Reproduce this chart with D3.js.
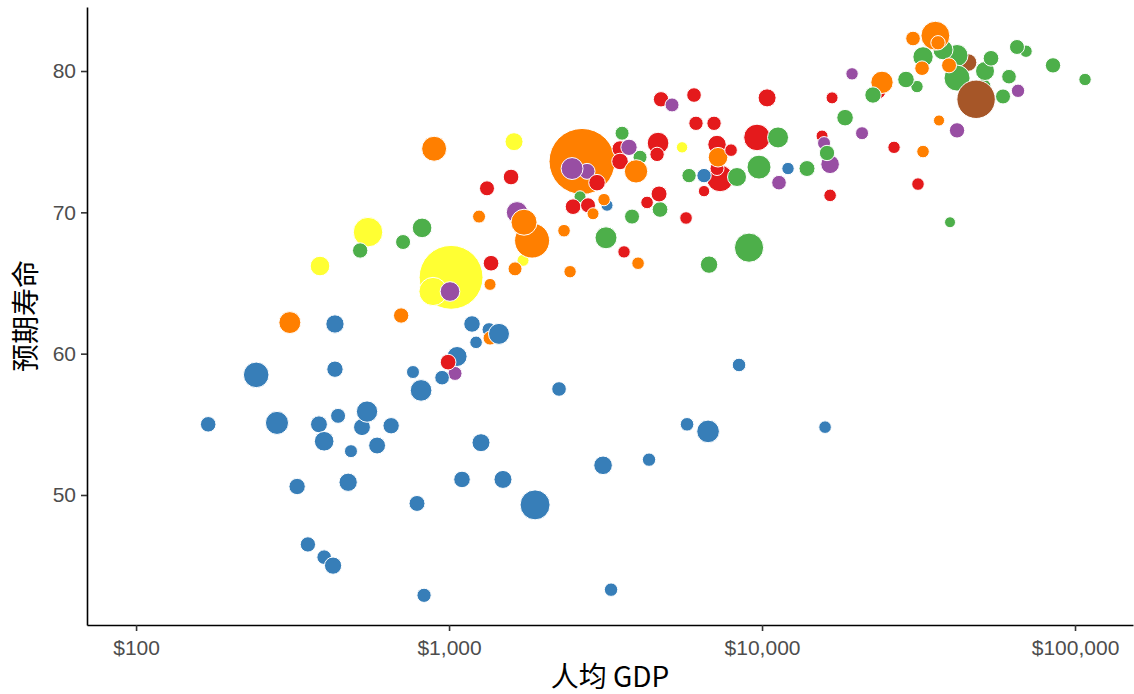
<!DOCTYPE html>
<html>
<head>
<meta charset="utf-8">
<script src="https://cdn.jsdelivr.net/npm/d3@7"></script>
<style>
  html, body { margin: 0; padding: 0; background: #ffffff; }
  svg { display: block; }
</style>
</head>
<body>
<svg id="chart" width="1134" height="694"></svg>
<script>
// GDP per capita (current US$), life expectancy (years) and population (millions), by region.
const regions = [
  "Latin America & Caribbean",
  "Sub-Saharan Africa",
  "Europe & Central Asia",
  "Middle East & North Africa",
  "East Asia & Pacific",
  "South Asia",
  "North America"
];

const latinAmerica = [
  ["Antigua and Barbuda", 15550, 75.4, 1.7],
  ["Argentina", 7181, 74.8, 30],
  ["Aruba", 23640, 78.5, 3.9],
  ["Bahamas, The", 26410, 74.6, 2.4],
  ["Barbados", 16740, 78.1, 1.7],
  ["Belize", 4292, 70.7, 2.8],
  ["Bolivia", 1362, 66.4, 13.5],
  ["Brazil", 7342, 72.4, 116],
  ["Cayman Islands", 31500, 72.0, 2.8],
  ["Chile", 10380, 78.1, 27],
  ["Colombia", 4654, 74.9, 57],
  ["Costa Rica", 6063, 78.3, 9],
  ["Cuba", 4756, 78.0, 12],
  ["Dominica", 7181, 73.1, 6.7],
  ["Dominican Republic", 4620, 74.1, 8],
  ["Ecuador", 3518, 74.5, 15],
  ["El Salvador", 3518, 73.6, 18],
  ["Guatemala", 2490, 70.4, 13.5],
  ["Guyana", 3623, 67.2, 2.4],
  ["Haiti", 993, 59.4, 13.5],
  ["Honduras", 1322, 71.7, 10.5],
  ["Jamaica", 4688, 71.3, 15],
  ["Mexico", 9638, 75.3, 116],
  ["Nicaragua", 1578, 72.5, 13.5],
  ["Panama", 6152, 76.3, 8],
  ["Paraguay", 2780, 70.5, 10.5],
  ["Peru", 2970, 72.1, 18],
  ["St. Lucia", 6527, 71.5, 0.8],
  ["St. Vincent and the Grenadines", 7962, 74.4, 2.8],
  ["Suriname", 5718, 69.6, 2.8],
  ["Trinidad and Tobago", 16500, 71.2, 2.8],
  ["Uruguay", 7025, 76.3, 8]
];

const subSaharanAfrica = [
  ["Angola", 3105, 52.1, 31],
  ["Benin", 653, 54.9, 17],
  ["Botswana", 5760, 55.0, 5.4],
  ["Burkina Faso", 527, 54.8, 20],
  ["Burundi", 170, 55.0, 13],
  ["Cameroon", 1265, 53.7, 27],
  ["Cape Verde", 3197, 70.5, 1.7],
  ["Central African Republic", 399, 45.6, 9],
  ["Chad", 790, 49.4, 15],
  ["Comoros", 767, 58.7, 3.8],
  ["Congo, Dem. Rep.", 282, 55.1, 72],
  ["Congo, Rep.", 2246, 57.5, 9],
  ["Cote d'Ivoire", 1487, 51.1, 27],
  ["Equatorial Guinea", 15900, 54.8, 2.8],
  ["Eritrea", 1342, 61.7, 6.7],
  ["Ethiopia", 242, 58.5, 102],
  ["Gabon", 8444, 59.2, 5.4],
  ["Gambia, The", 486, 53.1, 3.8],
  ["Ghana", 1061, 59.8, 42],
  ["Guinea", 442, 55.6, 10.5],
  ["Kenya", 814, 57.4, 57],
  ["Lesotho", 832, 42.9, 7.5],
  ["Madagascar", 432, 62.1, 29],
  ["Malawi", 327, 50.6, 17],
  ["Mali", 476, 50.9, 29],
  ["Mauritania", 950, 58.3, 8.9],
  ["Mauritius", 6527, 72.6, 8],
  ["Namibia", 4355, 52.5, 4.8],
  ["Niger", 384, 55.0, 20],
  ["Nigeria", 1883, 49.3, 168],
  ["Rwanda", 589, 53.5, 20],
  ["Sao Tome and Principe", 1220, 60.8, 2.8],
  ["Senegal", 1184, 62.1, 18],
  ["Seychelles", 12106, 73.1, 2.4],
  ["Sierra Leone", 354, 46.5, 12],
  ["South Africa", 6723, 54.5, 67],
  ["Sudan", 1444, 61.4, 51],
  ["Swaziland", 3293, 43.3, 5],
  ["Tanzania", 547, 55.9, 54],
  ["Togo", 432, 58.9, 17],
  ["Uganda", 399, 53.8, 39],
  ["Zambia", 1100, 51.1, 18],
  ["Zimbabwe", 426, 45.0, 22]
];

const europeCentralAsia = [
  ["Albania", 3571, 75.6, 6.7],
  ["Austria", 32690, 81.0, 45],
  ["Azerbaijan", 3843, 69.7, 10.5],
  ["Belarus", 4722, 70.2, 13.5],
  ["Belgium", 50820, 78.9, 15],
  ["Bulgaria", 5846, 72.6, 8],
  ["Cyprus", 31270, 78.9, 2.4],
  ["Czech Republic", 18420, 76.7, 18],
  ["Denmark", 58880, 78.2, 10.5],
  ["France", 41980, 81.1, 60],
  ["Georgia", 2621, 71.1, 1.7],
  ["Germany", 41980, 79.5, 108],
  ["Greece", 28840, 79.4, 18],
  ["Greenland", 39870, 69.3, 0.4],
  ["Iceland", 69740, 81.4, 2.4],
  ["Ireland", 61530, 79.6, 9],
  ["Italy", 37870, 81.5, 42],
  ["Kazakhstan", 6772, 66.3, 23],
  ["Kyrgyz Republic", 713, 67.9, 10.5],
  ["Latvia", 13920, 73.1, 15],
  ["Luxembourg", 107650, 79.4, 2.4],
  ["Macedonia, FYR", 4076, 73.9, 6.7],
  ["Netherlands", 51580, 80.0, 34],
  ["Norway", 85050, 80.4, 12],
  ["Poland", 11250, 75.3, 51],
  ["Portugal", 22620, 78.3, 17],
  ["Romania", 8319, 72.5, 34],
  ["Russian Federation", 9088, 67.5, 155],
  ["Slovak Republic", 16130, 74.2, 12],
  ["Sweden", 53900, 80.9, 13.5],
  ["Switzerland", 65250, 81.7, 10.5],
  ["Tajikistan", 520, 67.3, 12],
  ["Turkey", 9780, 73.2, 82],
  ["Ukraine", 3173, 68.2, 60],
  ["Uzbekistan", 820, 68.9, 39]
];

const middleEastNorthAfrica = [
  ["Bahrain", 15780, 74.9, 3.8],
  ["Djibouti", 1045, 58.6, 6.7],
  ["Egypt, Arab Rep.", 1649, 70.0, 55],
  ["Jordan", 2760, 72.9, 15],
  ["Kuwait", 41980, 75.8, 12],
  ["Lebanon", 5158, 77.6, 6.7],
  ["Libya", 11330, 72.1, 9],
  ["Malta", 19390, 79.8, 2.4],
  ["Morocco", 2472, 73.1, 60],
  ["Oman", 20870, 75.6, 3.8],
  ["Qatar", 65750, 78.6, 4.8],
  ["Saudi Arabia", 16500, 73.4, 31],
  ["Tunisia", 3758, 74.6, 17],
  ["Yemen, Rep.", 1007, 64.4, 39]
];

const eastAsiaPacific = [
  ["Brunei Darussalam", 36770, 76.5, 0.5],
  ["Cambodia", 703, 62.7, 12],
  ["China", 2660, 73.6, 1318],
  ["Fiji", 4017, 66.4, 2.8],
  ["Hong Kong SAR, China", 30370, 82.3, 9],
  ["Indonesia", 1842, 68.0, 263],
  ["Japan", 35800, 82.5, 150],
  ["Kiribati", 1352, 64.9, 1.7],
  ["Korea, Rep.", 24170, 79.2, 64],
  ["Macao SAR, China", 36500, 82.0, 8],
  ["Malaysia", 7235, 73.9, 39],
  ["Micronesia, Fed. Sts.", 2436, 65.8, 2.4],
  ["Mongolia", 1625, 66.0, 6.7],
  ["Myanmar", 310, 62.2, 60],
  ["New Caledonia", 32690, 74.3, 2.8],
  ["New Zealand", 32450, 80.2, 9],
  ["Papua New Guinea", 1352, 61.1, 6.7],
  ["Philippines", 1736, 69.3, 108],
  ["Samoa", 2884, 69.9, 1.7],
  ["Singapore", 39580, 80.4, 10.5],
  ["Solomon Islands", 1247, 69.7, 3.8],
  ["Thailand", 3958, 72.9, 75],
  ["Tonga", 3127, 70.9, 2.4],
  ["Vanuatu", 2330, 68.7, 2.8],
  ["Vietnam", 896, 74.5, 94]
];

const southAsia = [
  ["Bangladesh", 551, 68.6, 160],
  ["Bhutan", 1723, 66.6, 1.7],
  ["India", 1015, 65.4, 1220],
  ["Maldives", 5552, 74.6, 0.8],
  ["Nepal", 387, 66.2, 39],
  ["Pakistan", 889, 64.4, 140],
  ["Sri Lanka", 1613, 75.0, 27]
];

const northAmerica = [
  ["Canada", 45500, 80.6, 25],
  ["United States", 48300, 78.0, 340]
];

const xTicks = [100, 1000, 10000, 100000];
const yTicks = [50, 60, 70, 80];
const xTitle = "人均 GDP";
const yTitle = "预期寿命";

// One record per country; drawn in alphabetical order of country name.
const seriesByRegion = [latinAmerica, subSaharanAfrica, europeCentralAsia,
  middleEastNorthAfrica, eastAsiaPacific, southAsia, northAmerica];
const countries = [];
seriesByRegion.forEach((rows, i) => {
  rows.forEach(([name, gdp, life, pop]) => {
    countries.push({ name, region: regions[i], gdp, life, pop });
  });
});
countries.sort((a, b) => d3.ascending(a.name, b.name));

const svg = d3.select("#chart");
const panel = { left: 87, right: 1133, top: 7, bottom: 625 };

const x = d3.scaleLog()
  .domain([69.7, 153200])
  .range([panel.left, panel.right]);
const y = d3.scaleLinear()
  .domain([40.8, 84.53])
  .range([panel.bottom, panel.top]);
const r = d3.scaleSqrt()
  .domain([0, d3.max(countries, d => d.pop)])
  .range([5, 33]);
const color = d3.scaleOrdinal()
  .domain(regions)
  .range(["#e41a1c", "#377eb8", "#4daf4a", "#984ea3", "#ff7f00", "#ffff33", "#a65628"]);

// Bubbles
svg.append("g")
  .selectAll("circle")
  .data(countries)
  .join("circle")
  .attr("cx", d => x(d.gdp))
  .attr("cy", d => y(d.life))
  .attr("r", d => r(d.pop))
  .attr("fill", d => color(d.region))
  .attr("stroke", "#ffffff")
  .attr("stroke-width", 1);

// Axes
const tickFont = "'Liberation Sans', Arial, sans-serif";

const xAxis = svg.append("g")
  .attr("transform", `translate(0,${panel.bottom})`)
  .call(d3.axisBottom(x)
    .tickValues(xTicks)
    .tickFormat(d => "$" + d3.format(",")(d))
    .tickSize(6)
    .tickSizeOuter(0)
    .tickPadding(5));

const yAxis = svg.append("g")
  .attr("transform", `translate(${panel.left},0)`)
  .call(d3.axisLeft(y)
    .tickValues(yTicks)
    .tickSize(6)
    .tickSizeOuter(0)
    .tickPadding(5));

[xAxis, yAxis].forEach(g => {
  g.select(".domain").attr("stroke", "#000").attr("stroke-width", 1.6);
  g.selectAll(".tick line").attr("stroke", "#333").attr("stroke-width", 1.6);
  g.selectAll(".tick text")
    .attr("fill", "#4d4d4d")
    .style("font-family", tickFont)
    .style("font-size", "21px");
});
xAxis.selectAll(".tick text").attr("dy", "0.9em");

// Axis titles
svg.append("text")
  .attr("x", (panel.left + panel.right) / 2)
  .attr("y", 687)
  .attr("text-anchor", "middle")
  .style("font-family", "'Noto Sans CJK SC', 'Noto Sans', sans-serif")
  .style("font-size", "28px")
  .attr("fill", "#000")
  .text(xTitle);

svg.append("text")
  .attr("transform", `translate(36,${(panel.top + panel.bottom) / 2}) rotate(-90)`)
  .attr("text-anchor", "middle")
  .style("font-family", "'Noto Sans CJK SC', 'Noto Sans', sans-serif")
  .style("font-size", "28px")
  .attr("fill", "#000")
  .text(yTitle);
</script>
</body>
</html>
